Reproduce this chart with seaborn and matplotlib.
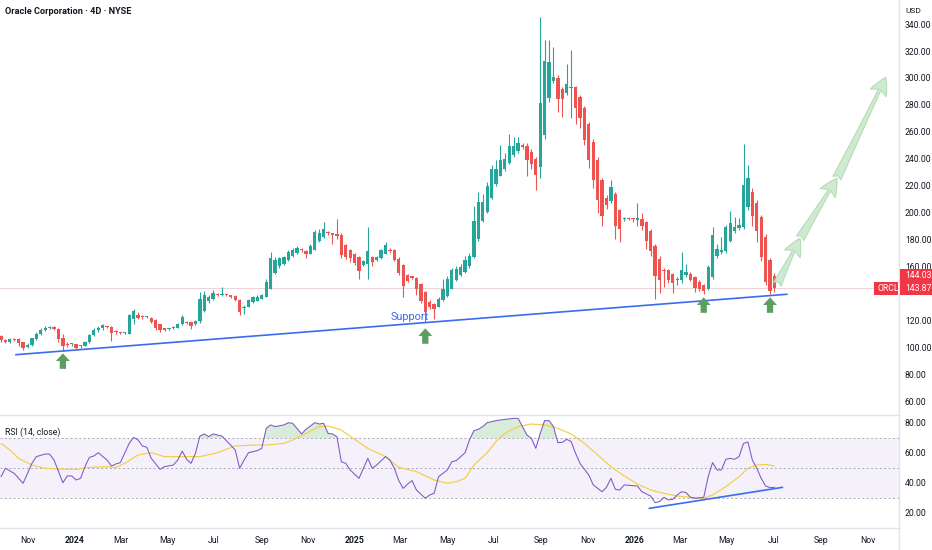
import numpy as np
import pandas as pd
import matplotlib
matplotlib.use("Agg")
import matplotlib.pyplot as plt
import matplotlib.dates as mdates
from matplotlib.patches import FancyArrowPatch, Rectangle, ArrowStyle
from matplotlib.lines import Line2D
import seaborn as sns

# ---------------- data ----------------
opens = [108,105,104,106,106,103.5,100,101.5,106,110,
         113,114.5,115,113.5,107,102.5,102,102,100.5,101,
         104,109,112.5,114,115.5,115,112,111,110.5,110,
         121,124,123,122.5,122,120,117,114,113.5,114,
         114.5,117,119,118.5,117,119.5,127,134,135.5,139.5,
         138.5,139,138.5,138,135,129,130,133.5,134.5,136,
         137.5,143.5,155,160,162,165,167.5,170,172.5,171.5,
         169.5,172.5,179,182,185,184.5,184,183.5,176,172,
         169,167,161,162,167,165,166.5,169.5,172.5,172,
         165.8,160.8,153.5,152.5,151.5,147,141,133.5,132.3,130.2,
         134.8,138,143.5,150,153.5,156,160,167,180,194,
         200.5,210.5,221,227.3,232.7,237,242.6,245.8,250,249.5,
         245,240,234,257.5,285,298,300,292,288.5,292.5,
         293,285.5,278,265.5,252.5,239,224,211,208.7,213.6,
         201.7,195,196,195.5,194.5,195.5,193,186,175,165.8,
         157.5,157,154,150,150.2,153.3,154.5,152,148.4,145.9,
         143.5,152,167.4,170.5,171.3,179,186,188.6,189,204,
         215.5,207,196.5,182,164.8,153.2]
closes = [105,104,106,105.5,103,99.5,101.5,106.5,110,113,
          114.5,115,113.5,106,100.5,101.5,102,99.5,101,104,
          109,113,114.5,116.5,115,110.5,111,110.5,110.7,124,
          127,122,122.5,122.5,118.5,114,112.5,113,114,115,
          117.5,122.5,118,116,119.5,136,138.5,137.5,140,139,
          139,138.5,137.5,135,126,130,135,137,137.5,138.5,
          148.5,166,165,166,167,171,172.5,173.5,172,169,
          175.5,185.5,185,187.5,184.5,183.5,182.5,168.5,167,166,
          162.5,156.5,164,171.5,163.5,167,172,176,171.5,165,
          155,145.2,149.5,151.5,143.5,134.5,126.2,130,128.6,135.5,
          143.4,151,157,158.3,159.6,165,168,194,208,208,
          219.5,232.5,232.5,239.4,240,249.3,249.3,251.8,249,239,
          236,228,281.7,312.7,312,301,284,284,295.5,293.5,
          278,270,254,239,224.5,209.6,197.5,205.5,219,189.8,
          188,196,195.5,195,196,190,179,171.4,153,149.6,
          156.5,150.2,147.6,150.5,157,155.8,150.2,144.3,143.5,141.7,
          159.5,183,173,172.3,188.9,192.6,189,191,220.7,225.7,
          197.7,186,167.3,148.3,142,143.87]
highs = [109,106,107,107,107,104,103,107,111,114,
         116,116,115.5,114,110,104,103,102.5,101.5,104.5,
         110,114,115.5,117,116,115.5,112.5,111.5,111,125,
         128.5,126,124,123.5,122.5,121,117.5,114.5,114.5,115.5,
         118,124,119.5,119,120,141,142,139,142.5,140.5,
         144.5,139.5,139,138.5,136,131,136,138,138.5,139.5,
         151,171,167,167,168,172,174,175,173.5,172,
         176.5,187,187.5,193,186,185,195.5,185,177,173,
         170,168,165,189.5,168,168,173,178,174,173,
         167,161.5,154,153,152,148,142,135,133,137,
         151,153,159,160,162,168,170,205,215,214,
         223,235,239,250,244,258.7,256,256,252,252,
         247,241,345,328,328,323,302,293,310,321,
         294,287,279,267,255,241,226,213,224,215,
         203,197,197,196,207,200,194,188,177,168,
         159,158,155,152,171,162,156,153,150,147,
         161,189,177,182,191,201,197,196,250.8,235,
         218,209,198,184,166,155]
lows = [104,103,103,104.5,101,98,99.5,101,105,109,
        112,113.5,112.5,103.5,97.5,100,101,99,99.5,100.5,
        103,108,111,113,114,104.5,110,110,110,109.5,
        117,121,121,121.5,118,113,111.5,112,113,113.5,
        114,116.5,117,113.8,116.5,118,126,133,135,138,
        138,138,136.5,134.5,124,125,129.5,133,134,135.5,
        137,143,154,159,161,164,167,169.5,171,166.5,
        169,172,178,181,183,177,180,166,165.5,163.5,
        161,151,160,151,160.5,164,165.5,169,170,164,
        153.5,137,148.5,150.5,138.5,133,118.7,128.5,121.2,129.5,
        134,137,143,149,153,155,159,166,179,193,
        200,210,220,227,231,236,241,244,247,227,
        232,216.6,226,255,282,296,275,271,287,270,
        266,263,250,233,218,200,190,203,207,180.6,
        178,194,194.5,193,190,187,173,168,136,140,
        145,148,140,146,148,152,149,141,141.5,139.7,
        142.5,151,166,169,170,178,185,187,188,202,
        190,178,164,146,139.5,141]

rsi_bars = [1,2,4,6,8,9,11,12,13,15,
            16,17,18,19,20,21,22,23,25,26,
            27,28,30,31,32,33,34,35,37,38,
            40,41,42,43,44,45,46,47,48,49,
            51,52,54,55,56,57,59,60,61,62,
            63,65,66,67,69,70,72,73,74,75,
            76,77,78,79,80,82,84,85,86,88,
            89,90,91,92,93,94,95,97,98,99,
            100,102,103,104,106,107,108,109,110,111,
            113,114,115,117,118,119,120,121,122,123,
            124,125,126,127,128,129,130,131,132,134,
            135,137,138,139,140,141,142,144,145,146,
            148,149,150,151,152,153,154,155,156,157,
            158,160,161,162,163,164,165,166,167,168,
            169,170,171,172,173,174,175,176]
rsi_vals = [44.2,49.8,46.4,39.8,53.1,57.6,59.3,59.3,55.3,40.2,
            44.7,44.7,42,43.1,50.9,57.1,58,60.2,55.3,51.3,
            52.7,53.6,66.4,70.4,68.7,64.7,63.8,56.4,49.1,50.9,
            52,55.3,61.3,55.8,53.1,59.8,71.3,72.7,70.9,72.7,
            71.3,68.2,62,49.8,55.3,60.2,61.6,63.1,76.4,78.7,
            77.6,78.7,80.2,79.8,72.7,75.8,80.2,79.3,79.8,73.1,
            72.7,70.9,54.2,53.1,48.7,43.1,56.4,49.8,52,57.6,
            55.3,49.8,41.6,36.4,39.3,41.6,35.3,29.8,32,33.1,
            44.2,48.7,54.2,54.9,60.2,68.7,74.9,75.8,77.6,80.2,
            81.6,82,82.4,83.1,83.1,77.6,72,69.8,63.1,73.1,
            81.6,81.6,77.6,66.9,67.1,69.1,67.6,59.8,53.1,45.3,
            38.7,34.2,37.1,43.1,35.8,35.3,38.7,38.2,38,34.2,
            31.3,26.9,27.6,30.4,28.7,29.1,32,34.2,33.6,30.4,
            29.8,30.4,44.2,53.6,48.7,48.7,55.8,56.4,55.8,57.6,
            66.4,67.3,55.3,49.8,43.1,38,36.9,37.1]

ma_bars = [1,3,5,8,11,14,18,21,25,27,
           29,32,35,38,42,46,50,54,58,61,
           65,67,70,73,75,78,81,84,88,91,
           95,99,102,104,106,108,111,113,115,118,
           121,124,127,130,133,136,139,142,145,148,
           151,154,158,160,162,165,168,170,172,174,176]
ma_vals = [66.4,62,56.4,52,49.8,49.3,49.1,50.4,50.9,50.4,
           53.1,58.7,60.2,57.6,57.6,57.6,60.2,64.7,65.3,65.3,
           66.4,68.7,73.1,77.6,78,75.3,69.1,63.1,57.6,50.4,
           47.6,42,39.8,40.9,43.1,52,60.2,67.6,73.1,77.6,
           79.3,78.7,76.4,72.7,66.4,58.7,50.9,44.7,39.3,35.3,
           33.1,31.3,30.2,29.8,32,37.6,44.2,49.8,52,52.4,51.3]

price_ticks = [60, 80, 100, 120, 140, 160, 180, 200, 220, 240, 260, 280, 300, 320, 340]
hidden_price_ticks = [140]   # covered by the last-price tags in the reference
rsi_ticks = [20, 40, 60, 80]
month_dates = ['2023-11-01', '2024-01-01', '2024-03-01', '2024-05-01', '2024-07-01',
               '2024-09-01', '2024-11-01', '2025-01-01', '2025-03-01', '2025-05-01',
               '2025-07-01', '2025-09-01', '2025-11-01', '2026-01-01', '2026-03-01',
               '2026-05-01', '2026-07-01', '2026-09-01', '2026-11-01']
month_labels = ['Nov', '2024', 'Mar', 'May', 'Jul', 'Sep', 'Nov', '2025', 'Mar', 'May',
                'Jul', 'Sep', 'Nov', '2026', 'Mar', 'May', 'Jul', 'Sep', 'Nov']

support_dates = ['2023-10-16', '2026-07-19']
support_prices = [94.4, 139.3]
support_label_date = '2025-03-13'
support_label_price = 122.2
rsi_trend_dates = ['2026-01-20', '2026-07-13']
rsi_trend_vals = [23.1, 37.1]
pivot_bars = [15, 97, 160, 175]
pivot_tips = [95.4, 114.0, 137.0, 137.0]
proj_dates = ['2026-07-06', '2026-08-05', '2026-09-22', '2026-11-25']
proj_prices = [146.7, 180.9, 225.5, 300.6]
last_price = 143.87
other_price = 144.03

# ---------------- style ----------------
sns.set_theme(style="white")
plt.rcParams['font.family'] = ['Roboto', 'DejaVu Sans']
GREEN = '#26a69a'
RED = '#ef5350'
TXT = '#131722'
SEP = '#e0e3eb'
BLUE = '#3b6cf0'

W, H = 932, 550
fig = plt.figure(figsize=(W / 100, H / 100), dpi=100)
fig.patch.set_facecolor('white')
PLOT_R = 899
ax = fig.add_axes([0, 1 - 415 / H, PLOT_R / W, 415 / H])
axr = fig.add_axes([0, 1 - 528 / H, PLOT_R / W, (528 - 417) / H])

# bar positions (4 trading-day bars)
n = len(closes)
bar_dates = pd.Timestamp('2023-09-26 18:00') + pd.to_timedelta(np.arange(n) * 5.77, unit='D')
xs = mdates.date2num(bar_dates)
O = np.array(opens); C = np.array(closes); Hh = np.array(highs); L = np.array(lows)
up = C >= O
cols = np.where(up, GREEN, RED)

base = mdates.date2num(pd.Timestamp('2023-11-01'))
xlim = (base - 36.55, base + 1137.1)

# ---------------- price panel ----------------
ax.vlines(xs, L, Hh, colors=cols, lw=0.8, zorder=2)
body_h = np.maximum(np.abs(C - O), 0.8)
ax.bar(xs, body_h, bottom=np.minimum(O, C), width=4.3, color=cols, linewidth=0, zorder=3)

ax.axhline(last_price, color='#efd4d6', lw=0.8, zorder=1)

sup_x = mdates.date2num(pd.to_datetime(support_dates))
sns.lineplot(x=sup_x, y=support_prices, ax=ax, color=BLUE, lw=1.2, zorder=4)
ax.text(mdates.date2num(pd.Timestamp(support_label_date)), support_label_price, 'Support',
        color=BLUE, fontsize=7.8, ha='center', va='center', zorder=5)

for b, tip in zip(pivot_bars, pivot_tips):
    arr = FancyArrowPatch((xs[b - 1], tip - 11.5), (xs[b - 1], tip),
                          arrowstyle=ArrowStyle.Simple(head_length=0.55, head_width=1.0, tail_width=0.45),
                          mutation_scale=10, color='#5d9e60', lw=0, shrinkA=0, shrinkB=0, zorder=6)
    ax.add_patch(arr)

px = mdates.date2num(pd.to_datetime(proj_dates))
for i in range(len(px) - 1):
    arr = FancyArrowPatch((px[i], proj_prices[i]), (px[i + 1], proj_prices[i + 1]),
                          arrowstyle=ArrowStyle.Fancy(head_length=0.9, head_width=0.9, tail_width=0.45),
                          mutation_scale=14, fc='#c8e6c9', ec='#a5d6a7', lw=0.7, alpha=0.85,
                          shrinkA=0, shrinkB=0, zorder=6)
    ax.add_patch(arr)

ax.set_xlim(xlim)
ax.set_ylim(49.6, 357.9)
ax.yaxis.tick_right()
ax.set_yticks(price_ticks)
ax.set_yticklabels(['' if v in hidden_price_ticks else f'{v:.2f}' for v in price_ticks])
ax.tick_params(axis='y', length=0, pad=4.3, labelsize=6.2, labelcolor=TXT)
ax.tick_params(axis='x', length=0, labelbottom=False)
for s in ['top', 'left']:
    ax.spines[s].set_visible(False)
for s in ['bottom', 'right']:
    ax.spines[s].set_color(SEP)
    ax.spines[s].set_linewidth(1)
ax.set_xlabel(''); ax.set_ylabel('')
ax.grid(False)

# ---------------- RSI panel ----------------
axr.axhspan(30, 70, color='#7e57c2', alpha=0.08, lw=0, zorder=0)
for v in (30, 50, 70):
    axr.axhline(v, color='#9598a1', lw=0.7, ls=(0, (2, 2.5)), alpha=0.8, zorder=1)

rx = xs[np.array(rsi_bars) - 1]
rv = np.array(rsi_vals)
axr.fill_between(rx, rv, 70, where=rv >= 70, interpolate=True, color='#66bb6a', alpha=0.25, lw=0, zorder=2)
sns.lineplot(x=rx, y=rv, ax=axr, color='#7e57c2', lw=0.75, zorder=4)
mx = xs[np.array(ma_bars) - 1]
sns.lineplot(x=mx, y=ma_vals, ax=axr, color='#f2cf45', lw=0.85, zorder=3)
tr_x = mdates.date2num(pd.to_datetime(rsi_trend_dates))
sns.lineplot(x=tr_x, y=rsi_trend_vals, ax=axr, color=BLUE, lw=1.2, zorder=5)

axr.set_xlim(xlim)
axr.set_ylim(10, 84)
axr.yaxis.tick_right()
axr.set_yticks(rsi_ticks)
axr.set_yticklabels([f'{v:.2f}' for v in rsi_ticks])
axr.tick_params(axis='y', length=0, pad=4.3, labelsize=6.2, labelcolor=TXT)
mnum = mdates.date2num(pd.to_datetime(month_dates))
axr.set_xticks(mnum)
axr.set_xticklabels(month_labels)
axr.tick_params(axis='x', length=0, pad=5.5, labelsize=6.2, labelcolor=TXT)
for lab in axr.get_xticklabels():
    if lab.get_text().isdigit():
        lab.set_fontweight('bold')
for s in ['top', 'left']:
    axr.spines[s].set_visible(False)
for s in ['bottom', 'right']:
    axr.spines[s].set_color(SEP)
    axr.spines[s].set_linewidth(1)
axr.set_xlabel(''); axr.set_ylabel('')
axr.grid(False)

fig.add_artist(Line2D([PLOT_R / W, PLOT_R / W], [0, 1 - 528 / H], color=SEP, lw=1, transform=fig.transFigure))

# ---------------- texts ----------------
fig.text(5 / W, 1 - 12 / H, 'Oracle Corporation · 4D · NYSE', fontsize=6.6, fontweight='semibold',
         color=TXT, ha='left', va='center')
fig.text(905 / W, 1 - 11 / H, 'USD', fontsize=6.0, color=TXT, ha='left', va='center')
fig.text(5 / W, 1 - 432 / H, 'RSI (14, close)', fontsize=6.3, color=TXT, ha='left', va='center')

# price labels on the scale
fig.canvas.draw()
y_last = ax.transData.transform((xlim[0], last_price))[1]
bh = 13
boxes = [(PLOT_R + 1, y_last - bh / 2, W - PLOT_R - 1, bh, f'{last_price:.2f}', 905),
         (PLOT_R + 1, y_last + bh / 2, W - PLOT_R - 1, bh, f'{other_price:.2f}', 905),
         (874, y_last - bh / 2, 24, bh, 'ORCL', 877)]
for (x0, y0, w, h, t, tx) in boxes:
    fig.add_artist(Rectangle((x0 / W, y0 / H), w / W, h / H, transform=fig.transFigure,
                             facecolor='#f23645', edgecolor='none', zorder=10))
    fig.text(tx / W, (y0 + h / 2) / H, t, fontsize=6.2, color='white', ha='left', va='center', zorder=11)

fig.savefig('out.png', dpi=100, facecolor='white')
